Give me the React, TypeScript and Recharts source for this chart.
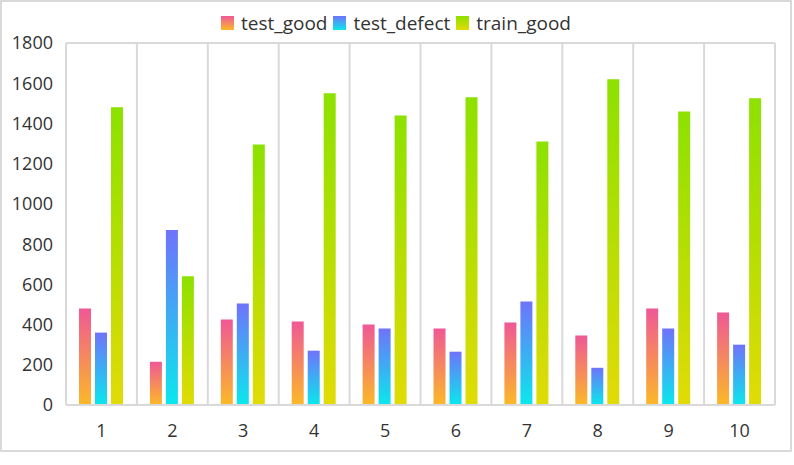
import React from 'react';
import { BarChart, Bar, XAxis, YAxis, CartesianGrid, Legend } from 'recharts';

const categories = ['1', '2', '3', '4', '5', '6', '7', '8', '9', '10'];
const testGood = [480, 215, 425, 415, 400, 380, 410, 345, 480, 460];
const testDefect = [360, 870, 505, 270, 380, 265, 515, 185, 380, 300];
const trainGood = [1480, 640, 1295, 1550, 1440, 1530, 1310, 1620, 1460, 1525];
const yTicks = [0, 200, 400, 600, 800, 1000, 1200, 1400, 1600, 1800];

const seriesDefs = [
  { key: 'test_good', name: 'test_good', top: '#ef5896', bottom: '#fbb928' },
  { key: 'test_defect', name: 'test_defect', top: '#6f73fb', bottom: '#0ae8ec' },
  { key: 'train_good', name: 'train_good', top: '#8de100', bottom: '#e1db06' },
];

const data = categories.map((c, i) => ({
  name: c,
  test_good: testGood[i],
  test_defect: testDefect[i],
  train_good: trainGood[i],
}));

const FONT = '"Open Sans", sans-serif';
const GRID = '#d9d9d9';

const LegendContent = () => (
  <div
    style={{
      display: 'flex',
      justifyContent: 'center',
      alignItems: 'center',
      fontFamily: FONT,
      fontSize: 19,
      color: '#333',
      lineHeight: '20px',
      height: 20,
    }}
  >
    {seriesDefs.map((s, i) => (
      <div key={s.key} style={{ display: 'flex', alignItems: 'center', marginLeft: i === 0 ? 0 : 6 }}>
        <svg width={13} height={14} style={{ marginRight: 7, display: 'block' }}>
          <defs>
            <linearGradient id={`lg-${s.key}`} x1="0" y1="0" x2="0" y2="1">
              <stop offset="0%" stopColor={s.top} />
              <stop offset="100%" stopColor={s.bottom} />
            </linearGradient>
          </defs>
          <rect x={0} y={0} width={13} height={14} fill={`url(#lg-${s.key})`} />
        </svg>
        <span>{s.name}</span>
      </div>
    ))}
  </div>
);

export default function App() {
  return (
    <div
      style={{
        position: 'absolute',
        left: 0,
        top: 0,
        width: 788,
        height: 448,
        border: `2px solid ${GRID}`,
        background: '#fff',
      }}
    >
      <BarChart
        width={788}
        height={448}
        data={data}
        margin={{ top: 21, right: 15, left: 0, bottom: 0 }}
        barSize={12}
        barGap={4}
      >
        <defs>
          {seriesDefs.map((s) => (
            <linearGradient key={s.key} id={`g-${s.key}`} x1="0" y1="0" x2="0" y2="1">
              <stop offset="0%" stopColor={s.top} />
              <stop offset="100%" stopColor={s.bottom} />
            </linearGradient>
          ))}
        </defs>
        <CartesianGrid
          stroke={GRID}
          strokeWidth={2}
          verticalCoordinatesGenerator={({ offset }: any) =>
            categories.map((_, i) => offset.left + (i * offset.width) / categories.length).concat([offset.left + offset.width])
          }
          horizontalCoordinatesGenerator={({ offset }: any) => [offset.top, offset.top + offset.height]}
        />
        <XAxis
          dataKey="name"
          axisLine={{ stroke: GRID, strokeWidth: 2 }}
          tickLine={false}
          tickSize={0}
          tickMargin={19}
          height={45}
          tick={{ fill: '#333', fontSize: 18, fontFamily: FONT }}
          interval={0}
        />
        <YAxis
          domain={[0, 1800]}
          ticks={yTicks}
          width={64}
          axisLine={{ stroke: GRID, strokeWidth: 2 }}
          tickLine={false}
          tickSize={0}
          tickMargin={13}
          tick={{ fill: '#333', fontSize: 18, fontFamily: FONT }}
          interval={0}
        />
        <Legend
          verticalAlign="top"
          align="center"
          content={<LegendContent />}
          wrapperStyle={{ top: 11, left: 0, width: 788 }}
        />
        {seriesDefs.map((s) => (
          <Bar key={s.key} dataKey={s.key} name={s.name} fill={`url(#g-${s.key})`} isAnimationActive={false} />
        ))}
      </BarChart>
    </div>
  );
}
